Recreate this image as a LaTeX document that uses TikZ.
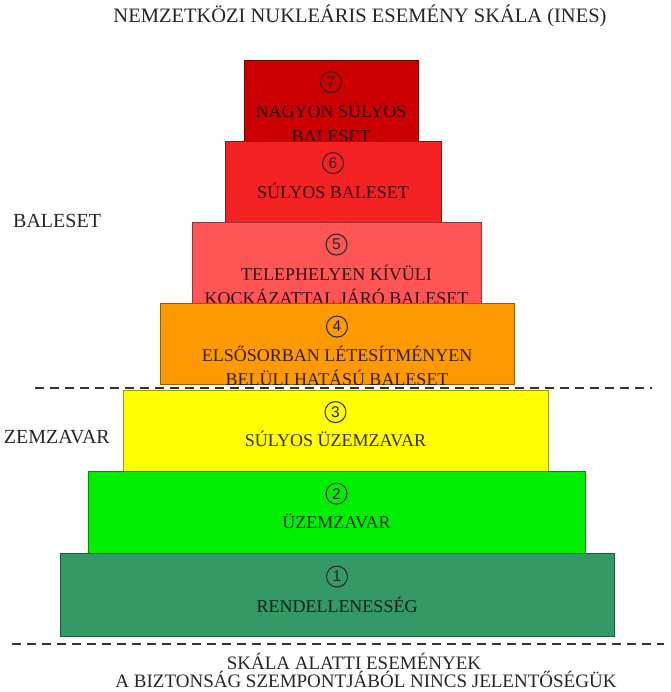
\documentclass[tikz,border=0pt]{standalone}
\usepackage{fontspec}
\setmainfont{Liberation Serif}
\newfontfamily\digitfont{Liberation Sans}
\usetikzlibrary{calc}
\definecolor{cseven}{HTML}{CC0000}
\definecolor{csix}{HTML}{F42222}
\definecolor{cfive}{HTML}{FF5555}
\definecolor{cfour}{HTML}{FF9900}
\definecolor{cthree}{HTML}{FFFF00}
\definecolor{ctwo}{HTML}{00EE00}
\definecolor{cone}{HTML}{339966}
\tikzset{
  lvl/.style={draw=#1!60!black, fill=#1, line width=0.8pt, inner sep=0pt},
  numc/.style={circle, draw=black!85, line width=1pt, minimum size=21pt, inner sep=0pt,
    font=\digitfont\fontsize{15.5}{15.5}\selectfont, text=black!85},
  lbl/.style={anchor=base, inner sep=0pt, text=black, text opacity=0.8,
    font=\fontsize{18}{21}\selectfont},
  side/.style={inner sep=0pt, text=black!85, font=\fontsize{20}{24}\selectfont},
  sepline/.style={draw=black!80, line width=1.6pt, dash pattern=on 9pt off 6pt}
}
\begin{document}
\begin{tikzpicture}[x=1pt,y=-1pt]
\useasboundingbox (0,0) rectangle (670,692);
\fill[white] (0,0) rectangle (670,692);

% title
\node[side, anchor=base, font=\fontsize{20.5}{24}\selectfont] (title) at (360,23) {NEMZETKÖZI NUKLEÁRIS ESEMÉNY SKÁLA (INES)};

% level 7
\node[lvl=cseven, minimum width=174pt, minimum height=81pt] (b7) at (331,100.5) {};
\begin{scope}
\clip (b7.south west) rectangle (b7.north east);
\node[numc] (n7) at ($(b7.north)+(0,22.5)$) {7};
\node[lbl] (t7a) at ($(b7.north)+(0,58)$) {NAGYON SÚLYOS};
\node[lbl] (t7b) at ($(b7.north)+(0,83)$) {BALESET};
\end{scope}

% level 6
\node[lvl=csix, minimum width=216pt, minimum height=81pt] (b6) at (333,181.5) {};
\begin{scope}
\clip (b6.south west) rectangle (b6.north east);
\node[numc] (n6) at ($(b6.north)+(0,22.5)$) {6};
\node[lbl] (t6a) at ($(b6.north)+(0,58)$) {SÚLYOS BALESET};
\end{scope}

% level 5
\node[lvl=cfive, minimum width=289pt, minimum height=81pt] (b5) at (336.5,262.5) {};
\begin{scope}
\clip (b5.south west) rectangle (b5.north east);
\node[numc] (n5) at ($(b5.north)+(0,23)$) {5};
\node[lbl] (t5a) at ($(b5.north)+(0,59)$) {TELEPHELYEN KÍVÜLI};
\node[lbl] (t5b) at ($(b5.north)+(0,83)$) {KOCKÁZATTAL JÁRÓ BALESET};
\end{scope}

% level 4
\node[lvl=cfour, minimum width=354pt, minimum height=81pt] (b4) at (337,343.5) {};
\begin{scope}
\clip (b4.south west) rectangle (b4.north east);
\node[numc] (n4) at ($(b4.north)+(0,24)$) {4};
\node[lbl] (t4a) at ($(b4.north)+(0,59)$) {ELSŐSORBAN LÉTESÍTMÉNYEN};
\node[lbl] (t4b) at ($(b4.north)+(0,83)$) {BELÜLI HATÁSÚ BALESET};
\end{scope}

% level 3
\node[lvl=cthree, minimum width=425pt, minimum height=81pt] (b3) at (335.5,430.5) {};
\node[numc] (n3) at ($(b3.north)+(0,22.5)$) {3};
\node[lbl] (t3a) at ($(b3.north)+(0,57)$) {SÚLYOS ÜZEMZAVAR};

% level 2
\node[lvl=ctwo, minimum width=497pt, minimum height=82pt] (b2) at (336.5,512) {};
\node[numc] (n2) at ($(b2.north)+(0,23)$) {2};
\node[lbl] (t2a) at ($(b2.north)+(0,58)$) {ÜZEMZAVAR};

% level 1
\node[lvl=cone, minimum width=554pt, minimum height=83pt] (b1) at (337,594.5) {};
\node[numc] (n1) at ($(b1.north)+(0,24)$) {1};
\node[lbl] (t1a) at ($(b1.north)+(0,60)$) {RENDELLENESSÉG};

% side labels
\node[side, anchor=base west] (lbal) at (13,228) {BALESET};
\node[side, anchor=base east] (luzem) at (110,443) {ZEMZAVAR};

% separator lines
\coordinate (d1a) at (35,388);
\coordinate (d1b) at (652,388);
\draw[sepline] (d1a) -- (d1b);
\coordinate (d2a) at (12,644);
\coordinate (d2b) at (664,644);
\draw[sepline] (d2a) -- (d2b);

% bottom text
\node[side, anchor=base, font=\fontsize{19}{22}\selectfont] (bt1) at (354,669) {SKÁLA ALATTI ESEMÉNYEK};
\node[side, anchor=base, font=\fontsize{19}{22}\selectfont] (bt2) at (366,687) {A BIZTONSÁG SZEMPONTJÁBÓL NINCS JELENTŐSÉGÜK};
\end{tikzpicture}
\end{document}
